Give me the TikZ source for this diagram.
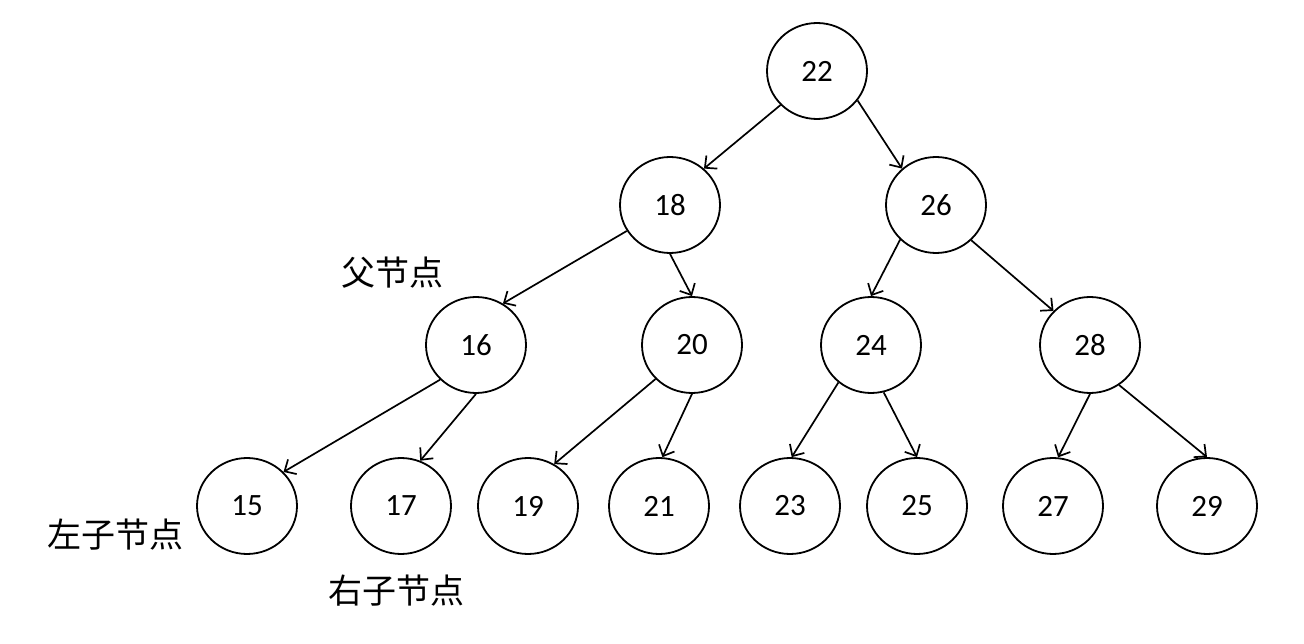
\documentclass[tikz,border=0pt]{standalone}
\usepackage{fontspec}
\setmainfont{Carlito}
\newfontfamily\cjk{Noto Sans CJK SC}
\usetikzlibrary{shapes.geometric,arrows.meta}
\begin{document}
\begin{tikzpicture}[x=1pt,y=-1pt,
  tnode/.style={draw,ellipse,line width=1.8pt,minimum width=100pt,minimum height=96pt,inner sep=0pt,font=\fontsize{31}{32}\selectfont},
  tedge/.style={line width=1.7pt,-{Straight Barb[length=9pt,width=17pt,line width=1.7pt]}},
  lbl/.style={font=\cjk\fontsize{34}{36}\selectfont,inner sep=0pt}]
\useasboundingbox (0,0) rectangle (1304,644);
\node[tnode] (n22) at (817,71) {22};
\node[tnode] (n18) at (670,205) {18};
\node[tnode] (n26) at (936,205) {26};
\node[tnode] (n16) at (476,345) {16};
\node[tnode] (n20) at (692,345) {20};
\node[tnode] (n24) at (871,345) {24};
\node[tnode] (n28) at (1090,345) {28};
\node[tnode] (n15) at (247,506) {15};
\node[tnode] (n17) at (401,506) {17};
\node[tnode] (n19) at (528,506) {19};
\node[tnode] (n21) at (659,506) {21};
\node[tnode] (n23) at (790,506) {23};
\node[tnode] (n25) at (917,506) {25};
\node[tnode] (n27) at (1053,506) {27};
\node[tnode] (n29) at (1207,506) {29};
\draw[tedge] (n22.223) -- (n18.47);
\draw[tedge] (n22.324) -- (n26.133);
\draw[tedge] (n18.211) -- (n16.57);
\draw[tedge] (n18.270) -- (n20.90);
\draw[tedge] (n26.224) -- (n24.90);
\draw[tedge] (n26.315) -- (n28.137);
\draw[tedge] (n16.224) -- (n15.43);
\draw[tedge] (n16.270) -- (n17.67);
\draw[tedge] (n20.223) -- (n19.58);
\draw[tedge] (n20.270) -- (n21.86);
\draw[tedge] (n24.229) -- (n23.88);
\draw[tedge] (n24.285) -- (n25.90);
\draw[tedge] (n28.270) -- (n27.84);
\draw[tedge] (n28.306) -- (n29.90);
\node[lbl] (lp) at (392,273) {父节点};
\node[lbl] (ll) at (115,535) {左子节点};
\node[lbl] (lr) at (396,591) {右子节点};
\end{tikzpicture}
\end{document}
